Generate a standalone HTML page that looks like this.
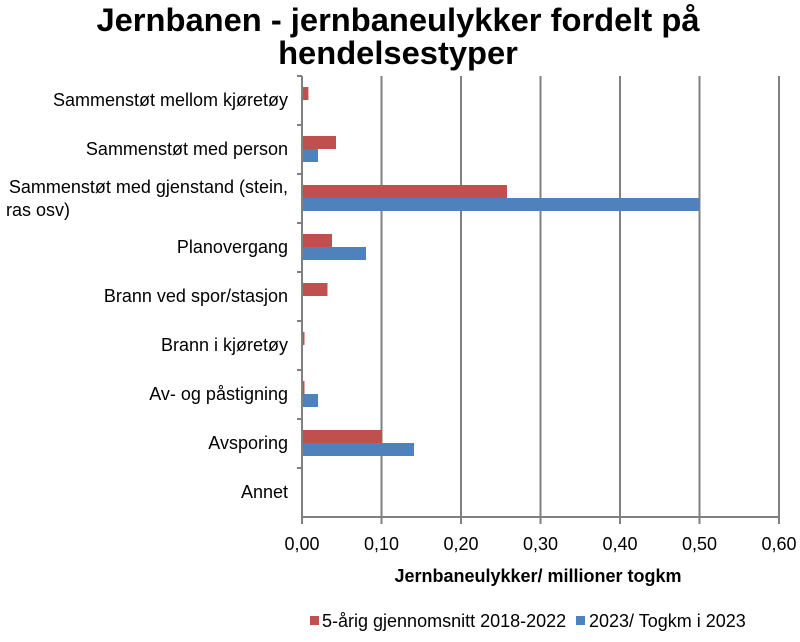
<!DOCTYPE html>
<html><head><meta charset="utf-8"><style>
body{margin:0;background:#fff;}
svg{display:block;font-family:"Liberation Sans",Arial,sans-serif;}
</style></head><body>
<svg width="800" height="642" viewBox="0 0 800 642">
<text x="398" y="31" text-anchor="middle" font-size="32.7" font-weight="bold">Jernbanen - jernbaneulykker fordelt på</text>
<text x="398" y="64" text-anchor="middle" font-size="32.7" font-weight="bold">hendelsestyper</text>
<g stroke="#808080" stroke-width="2">
<line x1="381.5" y1="76" x2="381.5" y2="517"/>
<line x1="461" y1="76" x2="461" y2="517"/>
<line x1="540.5" y1="76" x2="540.5" y2="517"/>
<line x1="620" y1="76" x2="620" y2="517"/>
<line x1="699.5" y1="76" x2="699.5" y2="517"/>
<line x1="779" y1="76" x2="779" y2="517"/>
</g>
<g fill="#C0504D">
<rect x="302" y="87" width="6.4" height="13"/>
<rect x="302" y="136" width="34" height="13"/>
<rect x="302" y="185" width="205" height="13"/>
<rect x="302" y="234" width="30" height="13"/>
<rect x="302" y="283" width="25.5" height="13"/>
<rect x="302" y="332" width="2.5" height="13"/>
<rect x="302" y="381" width="2.5" height="13"/>
<rect x="302" y="430" width="80" height="13"/>
</g>
<g fill="#4F81BD">
<rect x="302" y="149" width="16" height="13"/>
<rect x="302" y="198" width="397" height="13"/>
<rect x="302" y="247" width="64" height="13"/>
<rect x="302" y="394" width="16" height="13"/>
<rect x="302" y="443" width="112" height="13"/>
</g>
<g stroke="#808080" stroke-width="2">
<line x1="302" y1="76" x2="302" y2="524"/>
<line x1="302" y1="517" x2="779" y2="517"/>
<line x1="297" y1="76" x2="302" y2="76"/>
<line x1="297" y1="125" x2="302" y2="125"/>
<line x1="297" y1="174" x2="302" y2="174"/>
<line x1="297" y1="223" x2="302" y2="223"/>
<line x1="297" y1="272" x2="302" y2="272"/>
<line x1="297" y1="321" x2="302" y2="321"/>
<line x1="297" y1="370" x2="302" y2="370"/>
<line x1="297" y1="419" x2="302" y2="419"/>
<line x1="297" y1="468" x2="302" y2="468"/>
<line x1="381.5" y1="517" x2="381.5" y2="524"/>
<line x1="461" y1="517" x2="461" y2="524"/>
<line x1="540.5" y1="517" x2="540.5" y2="524"/>
<line x1="620" y1="517" x2="620" y2="524"/>
<line x1="699.5" y1="517" x2="699.5" y2="524"/>
<line x1="779" y1="517" x2="779" y2="524"/>
</g>
<g font-size="18" text-anchor="end" fill="#000">
<text x="288" y="106">Sammenstøt mellom kjøretøy</text>
<text x="288" y="155">Sammenstøt med person</text>
<text x="288" y="193">Sammenstøt med gjenstand (stein,</text>
<text x="6" y="216" text-anchor="start">ras osv)</text>
<text x="288" y="253">Planovergang</text>
<text x="288" y="302">Brann ved spor/stasjon</text>
<text x="288" y="351">Brann i kjøretøy</text>
<text x="288" y="400">Av- og påstigning</text>
<text x="288" y="449">Avsporing</text>
<text x="288" y="498">Annet</text>
</g>
<g font-size="18" text-anchor="middle">
<text x="302" y="550">0,00</text>
<text x="381.5" y="550">0,10</text>
<text x="461" y="550">0,20</text>
<text x="540.5" y="550">0,30</text>
<text x="620" y="550">0,40</text>
<text x="699.5" y="550">0,50</text>
<text x="779" y="550">0,60</text>
</g>
<text x="538" y="582" text-anchor="middle" font-size="18" font-weight="bold">Jernbaneulykker/ millioner togkm</text>
<rect x="310" y="616" width="9" height="9" fill="#C0504D"/>
<text x="322" y="627" font-size="18">5-årig gjennomsnitt 2018-2022</text>
<rect x="576" y="616" width="9" height="9" fill="#4F81BD"/>
<text x="589" y="627" font-size="18">2023/ Togkm i 2023</text>
</svg>
</body></html>
